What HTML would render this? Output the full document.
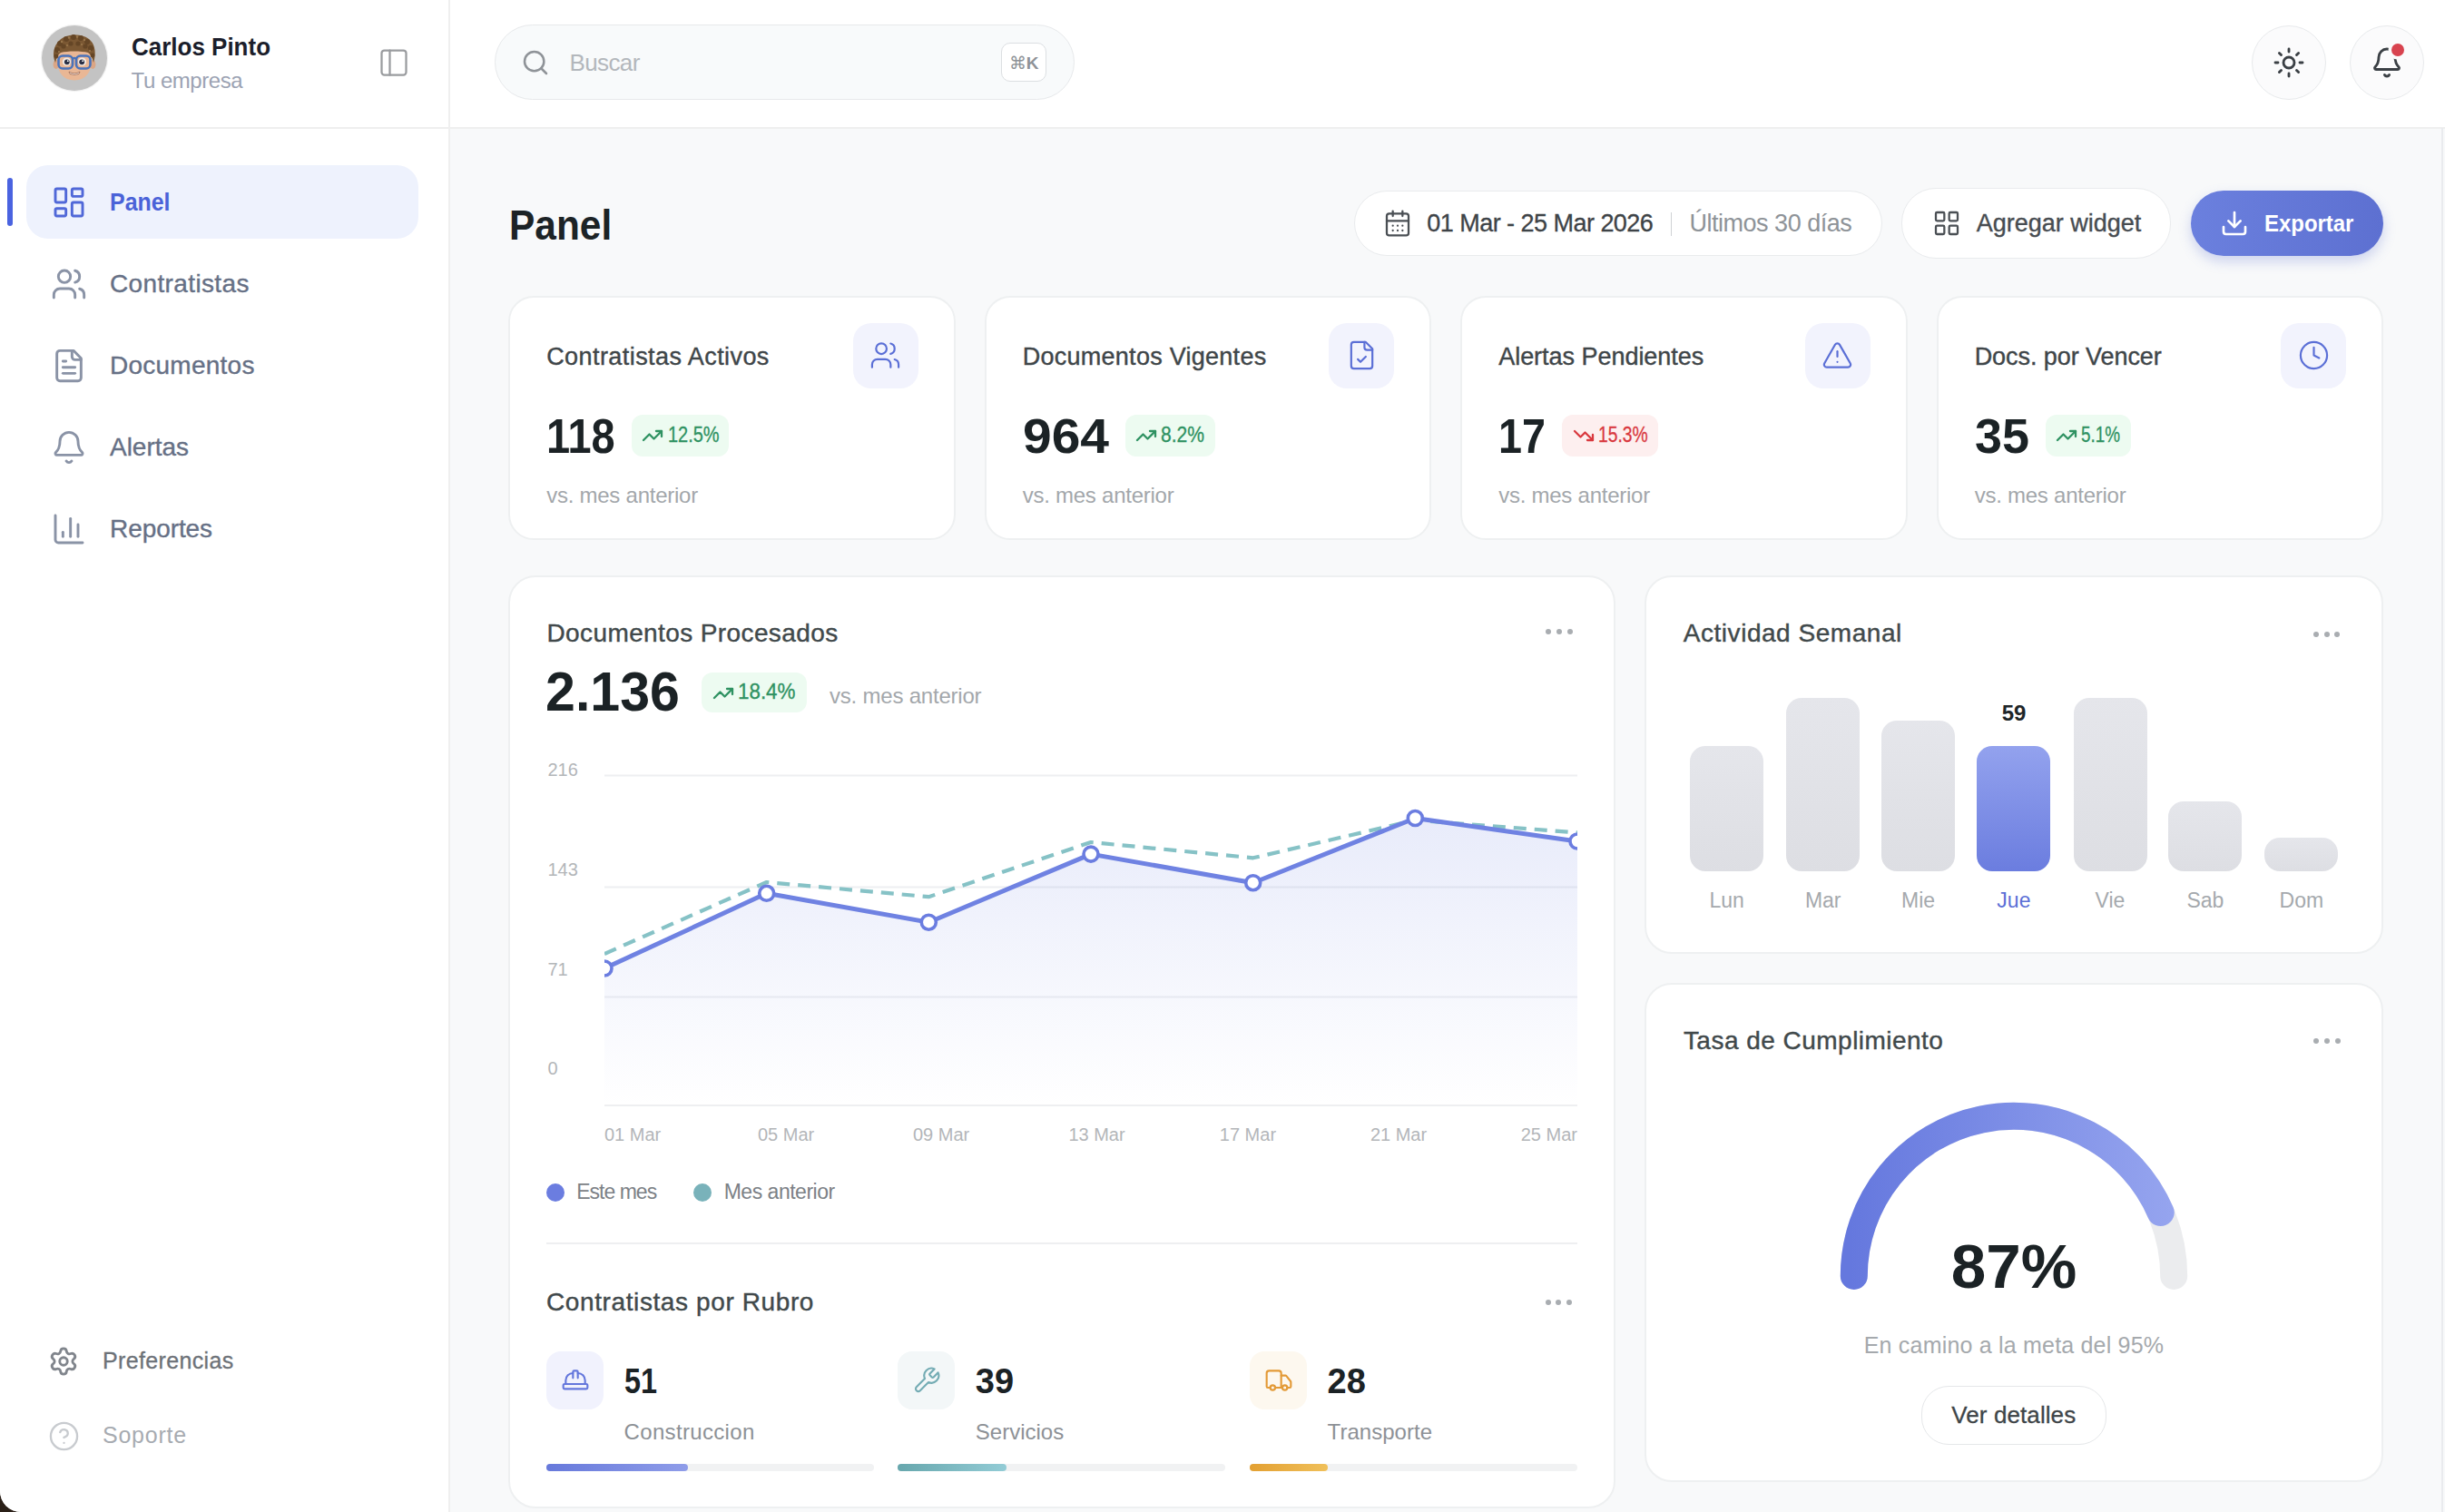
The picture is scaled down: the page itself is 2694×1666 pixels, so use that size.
<!DOCTYPE html>
<html><head><meta charset="utf-8"><style>
html,body{margin:0;padding:0;width:2694px;height:1666px;overflow:hidden;background:#2b2018;}
body{position:relative;font-family:"Liberation Sans",sans-serif;}
.t{position:absolute;white-space:nowrap;line-height:1;}
</style></head><body>
<div style="position:absolute;left:0;top:0;width:2694px;height:1666px;background:#f8f9fa;border-bottom-left-radius:23px;overflow:hidden"></div>
<div style="position:absolute;left:0.00px;top:0.00px;width:496.00px;height:1666.00px;background:#ffffff;border-bottom-left-radius:23px;border-right:2px solid #efefef;box-sizing:border-box"></div>
<div style="position:absolute;left:496.00px;top:0.00px;width:2198.00px;height:140.00px;background:#ffffff"></div>
<div style="position:absolute;left:0.00px;top:140.00px;width:2694.00px;height:2.00px;background:#efefef"></div>
<div style="position:absolute;left:2690.00px;top:141.00px;width:2.00px;height:1525.00px;background:#e9ebee"></div>
<svg style="position:absolute;left:44px;top:26px;width:76px;height:76px" viewBox="0 0 76 76">
<circle cx="38" cy="38" r="37.2" fill="#f2f2f2"/>
<circle cx="38" cy="38" r="36" fill="#c3c3c3"/>
<ellipse cx="17.8" cy="45" rx="3.2" ry="5" fill="#dba685"/>
<ellipse cx="58.2" cy="45" rx="3.2" ry="5" fill="#dba685"/>
<path d="M19 40 C19 30 27 27 38 27 C49 27 57 30 57 40 C57 54 50 62.5 38 62.5 C26 62.5 19 54 19 40Z" fill="#e9b795"/>
<path d="M17 43 C13 34 15 24 22 18 C28 13 34 12.5 38 12.5 C45 12.5 52 14 56 19 C61 24 62 34 59 43 C58 38 56 34 53 32 C46 30 30 30 23 32 C20 34 18 38 17 43Z" fill="#7b5833"/>
<g fill="#654626"><circle cx="22" cy="22" r="3"/><circle cx="29" cy="17" r="3"/><circle cx="37" cy="15" r="3"/><circle cx="45" cy="16" r="3"/><circle cx="52" cy="20" r="3"/><circle cx="56" cy="27" r="3"/><circle cx="19" cy="29" r="3"/><circle cx="26" cy="25" r="2.6"/><circle cx="34" cy="22" r="2.6"/><circle cx="42" cy="22" r="2.6"/><circle cx="50" cy="25" r="2.6"/><circle cx="18" cy="36" r="2.4"/><circle cx="58" cy="35" r="2.4"/></g>
<g fill="#9a774c"><circle cx="24" cy="20" r="1.2"/><circle cx="32" cy="15.5" r="1.2"/><circle cx="41" cy="14.5" r="1.2"/><circle cx="49" cy="18" r="1.2"/><circle cx="30" cy="24" r="1.1"/><circle cx="46" cy="23" r="1.1"/><circle cx="21" cy="31" r="1.1"/><circle cx="55" cy="30" r="1.1"/></g>
<circle cx="29.5" cy="42" r="4.6" fill="#f3ece8"/><circle cx="46.5" cy="42" r="4.6" fill="#f3ece8"/>
<circle cx="29.8" cy="42.3" r="2.9" fill="#2a3046"/><circle cx="46.2" cy="42.3" r="2.9" fill="#2a3046"/>
<circle cx="30.8" cy="41.2" r="0.9" fill="#ffffff"/><circle cx="47.2" cy="41.2" r="0.9" fill="#ffffff"/>
<rect x="20.5" y="35.5" width="15.5" height="14" rx="4.5" fill="none" stroke="#4a73ba" stroke-width="2.6"/>
<rect x="40" y="35.5" width="15.5" height="14" rx="4.5" fill="none" stroke="#4a73ba" stroke-width="2.6"/>
<path d="M36 38.5 Q38 37.5 40 38.5" stroke="#4a73ba" stroke-width="2.4" fill="none"/>
<path d="M32 53 Q38 56.5 44 53 L43 55.5 Q38 57.5 33 55.5Z" fill="#f1e6df" stroke="#a06a52" stroke-width="0.8"/>
</svg>
<div id="t_name" class="t" style="left:144.60px;top:38.30px;font-size:28px;color:#1b1e2b;font-weight:700;letter-spacing:0.000px;transform:scaleX(0.9278);transform-origin:0 0;">Carlos Pinto</div>
<div id="t_emp" class="t" style="left:144.60px;top:76.68px;font-size:24px;color:#9ca3b3;font-weight:400;letter-spacing:-0.470px;transform:scaleX(1.0000);transform-origin:0 0;">Tu empresa</div>
<svg style="position:absolute;left:416.00px;top:50.50px;width:36px;height:36px;" viewBox="0 0 24 24" fill="none" stroke="#9a9c9f" stroke-width="1.5" stroke-linecap="round" stroke-linejoin="round"><rect width="18" height="18" x="3" y="3" rx="2"/><path d="M9 3v18"/></svg>
<div style="position:absolute;left:28.60px;top:182.00px;width:432.90px;height:81.00px;background:#eef2fd;border-radius:24px"></div>
<div style="position:absolute;left:8.00px;top:196.00px;width:6.00px;height:53.00px;background:#4a63e0;border-radius:3px"></div>
<svg style="position:absolute;left:56.00px;top:202.75px;width:40px;height:40px;" viewBox="0 0 24 24" fill="none" stroke="#5068d8" stroke-width="1.75" stroke-linecap="round" stroke-linejoin="round"><rect width="7" height="9" x="3" y="3" rx="1"/><rect width="7" height="5" x="14" y="3" rx="1"/><rect width="7" height="9" x="14" y="12" rx="1"/><rect width="7" height="5" x="3" y="16" rx="1"/></svg>
<div id="t_nav0" class="t" style="left:121.00px;top:209.30px;font-size:28px;color:#4a62d8;font-weight:700;letter-spacing:0.000px;transform:scaleX(0.8902);transform-origin:0 0;">Panel</div>
<svg style="position:absolute;left:56.00px;top:292.75px;width:40px;height:40px;" viewBox="0 0 24 24" fill="none" stroke="#8a93a6" stroke-width="1.75" stroke-linecap="round" stroke-linejoin="round"><path d="M16 21v-2a4 4 0 0 0-4-4H6a4 4 0 0 0-4 4v2"/><path d="M16 3.128a4 4 0 0 1 0 7.744"/><path d="M22 21v-2a4 4 0 0 0-3-3.87"/><circle cx="9" cy="7" r="4"/></svg>
<div id="t_nav1" class="t" style="left:121.00px;top:299.30px;font-size:28px;color:#667085;font-weight:400;letter-spacing:0.367px;transform:scaleX(1.0000);transform-origin:0 0;-webkit-text-stroke:0.35px #667085;">Contratistas</div>
<svg style="position:absolute;left:56.00px;top:382.75px;width:40px;height:40px;" viewBox="0 0 24 24" fill="none" stroke="#8a93a6" stroke-width="1.75" stroke-linecap="round" stroke-linejoin="round"><path d="M15 2H6a2 2 0 0 0-2 2v16a2 2 0 0 0 2 2h12a2 2 0 0 0 2-2V7Z"/><path d="M14 2v4a2 2 0 0 0 2 2h4"/><path d="M10 9H8"/><path d="M16 13H8"/><path d="M16 17H8"/></svg>
<div id="t_nav2" class="t" style="left:121.00px;top:389.30px;font-size:28px;color:#667085;font-weight:400;letter-spacing:0.250px;transform:scaleX(1.0000);transform-origin:0 0;-webkit-text-stroke:0.35px #667085;">Documentos</div>
<svg style="position:absolute;left:56.00px;top:472.75px;width:40px;height:40px;" viewBox="0 0 24 24" fill="none" stroke="#8a93a6" stroke-width="1.75" stroke-linecap="round" stroke-linejoin="round"><path d="M10.268 21a2 2 0 0 0 3.464 0"/><path d="M3.262 15.326A1 1 0 0 0 4 17h16a1 1 0 0 0 .74-1.673C19.41 13.956 18 12.499 18 8A6 6 0 0 0 6 8c0 4.499-1.411 5.956-2.738 7.326"/></svg>
<div id="t_nav3" class="t" style="left:121.00px;top:479.30px;font-size:28px;color:#667085;font-weight:400;letter-spacing:-0.029px;transform:scaleX(1.0000);transform-origin:0 0;-webkit-text-stroke:0.35px #667085;">Alertas</div>
<svg style="position:absolute;left:56.00px;top:562.75px;width:40px;height:40px;" viewBox="0 0 24 24" fill="none" stroke="#8a93a6" stroke-width="1.75" stroke-linecap="round" stroke-linejoin="round"><path d="M3 3v16a2 2 0 0 0 2 2h16"/><path d="M18 17V9"/><path d="M13 17V5"/><path d="M8 17v-3"/></svg>
<div id="t_nav4" class="t" style="left:121.00px;top:569.30px;font-size:28px;color:#667085;font-weight:400;letter-spacing:-0.075px;transform:scaleX(1.0000);transform-origin:0 0;-webkit-text-stroke:0.35px #667085;">Reportes</div>
<svg style="position:absolute;left:53.00px;top:1483.00px;width:34px;height:34px;" viewBox="0 0 24 24" fill="none" stroke="#80858c" stroke-width="2.0" stroke-linecap="round" stroke-linejoin="round"><path d="M9.671 4.136a2.34 2.34 0 0 1 4.659 0 2.34 2.34 0 0 0 3.319 1.915 2.34 2.34 0 0 1 2.33 4.033 2.34 2.34 0 0 0 0 3.831 2.34 2.34 0 0 1-2.33 4.033 2.34 2.34 0 0 0-3.319 1.915 2.34 2.34 0 0 1-4.659 0 2.34 2.34 0 0 0-3.32-1.915 2.34 2.34 0 0 1-2.33-4.033 2.34 2.34 0 0 0 0-3.831A2.34 2.34 0 0 1 6.35 6.051a2.34 2.34 0 0 0 3.319-1.915"/><circle cx="12" cy="12" r="3"/></svg>
<div id="t_pref" class="t" style="left:113.00px;top:1486.54px;font-size:25px;color:#6d7278;font-weight:400;letter-spacing:0.358px;transform:scaleX(1.0000);transform-origin:0 0;-webkit-text-stroke:0.3px #6d7278;">Preferencias</div>
<svg style="position:absolute;left:52.50px;top:1565.10px;width:35px;height:35px;" viewBox="0 0 24 24" fill="none" stroke="#c8cbcf" stroke-width="1.6" stroke-linecap="round" stroke-linejoin="round"><circle cx="12" cy="12" r="10"/><path d="M9.09 9a3 3 0 0 1 5.83 1c0 2-3 3-3 3"/><path d="M12 17h.01"/></svg>
<div id="t_sop" class="t" style="left:113.00px;top:1569.44px;font-size:25px;color:#a7abb1;font-weight:400;letter-spacing:0.771px;transform:scaleX(1.0000);transform-origin:0 0;">Soporte</div>
<div style="position:absolute;left:545.00px;top:27.00px;width:639.00px;height:83.00px;background:#f8fafb;border:1.5px solid #e7e9eb;border-radius:42px;box-sizing:border-box"></div>
<svg style="position:absolute;left:573.50px;top:53.00px;width:32px;height:32px;" viewBox="0 0 24 24" fill="none" stroke="#8f9398" stroke-width="1.9" stroke-linecap="round" stroke-linejoin="round"><circle cx="11" cy="11" r="8"/><path d="m21 21-4.3-4.3"/></svg>
<div id="t_buscar" class="t" style="left:627.40px;top:55.99px;font-size:26px;color:#b3b7bc;font-weight:400;letter-spacing:-0.600px;transform:scaleX(1.0000);transform-origin:0 0;">Buscar</div>
<div style="position:absolute;left:1102.60px;top:47.20px;width:50.70px;height:43.00px;background:#ffffff;border:1.5px solid #dcdfe2;border-radius:10px;box-sizing:border-box"></div>
<div class="t" style="left:528.00px;width:1200px;text-align:center;top:59.92px;font-size:19px;color:#8e9297;font-weight:400;"><span id="t_kbd" style="display:inline-block;letter-spacing:0.000px;transform:scaleX(1.0000);transform-origin:50% 0">&#8984;<b>K</b></span></div>
<div style="position:absolute;left:2481.00px;top:28.00px;width:82.00px;height:82.00px;background:#fbfbfc;border:1.5px solid #e8eaec;border-radius:50%;box-sizing:border-box"></div>
<svg style="position:absolute;left:2504.00px;top:51.00px;width:36px;height:36px;" viewBox="0 0 24 24" fill="none" stroke="#3b4045" stroke-width="1.9" stroke-linecap="round" stroke-linejoin="round"><circle cx="12" cy="12" r="4"/><path d="M12 2v2"/><path d="M12 20v2"/><path d="m4.93 4.93 1.41 1.41"/><path d="m17.66 17.66 1.41 1.41"/><path d="M2 12h2"/><path d="M20 12h2"/><path d="m6.34 17.66-1.41 1.41"/><path d="m19.07 4.93-1.41 1.41"/></svg>
<div style="position:absolute;left:2589.00px;top:28.00px;width:82.00px;height:82.00px;background:#fbfbfc;border:1.5px solid #e8eaec;border-radius:50%;box-sizing:border-box"></div>
<svg style="position:absolute;left:2612.00px;top:51.00px;width:36px;height:36px;" viewBox="0 0 24 24" fill="none" stroke="#3b4045" stroke-width="1.9" stroke-linecap="round" stroke-linejoin="round"><path d="M10.268 21a2 2 0 0 0 3.464 0"/><path d="M3.262 15.326A1 1 0 0 0 4 17h16a1 1 0 0 0 .74-1.673C19.41 13.956 18 12.499 18 8A6 6 0 0 0 6 8c0 4.499-1.411 5.956-2.738 7.326"/></svg>
<div style="position:absolute;left:2635.00px;top:47.60px;width:14.00px;height:14.00px;background:#d8434f;border-radius:50%;box-shadow:0 0 0 3.5px #fbfbfc"></div>
<div id="t_title" class="t" style="left:560.60px;top:223.81px;font-size:47px;color:#1c2326;font-weight:700;letter-spacing:0.000px;transform:scaleX(0.9027);transform-origin:0 0;">Panel</div>
<div style="position:absolute;left:1491.50px;top:210.00px;width:582.50px;height:72.30px;background:#ffffff;border:1.5px solid #e9ebed;border-radius:37px;box-sizing:border-box"></div>
<svg style="position:absolute;left:1524.00px;top:229.50px;width:32px;height:32px;" viewBox="0 0 24 24" fill="none" stroke="#4a4f54" stroke-width="1.7" stroke-linecap="round" stroke-linejoin="round"><path d="M8 2v4"/><path d="M16 2v4"/><rect width="18" height="18" x="3" y="4" rx="2"/><path d="M3 10h18"/><path d="M8 14h.01"/><path d="M12 14h.01"/><path d="M16 14h.01"/><path d="M8 18h.01"/><path d="M12 18h.01"/><path d="M16 18h.01"/></svg>
<div id="t_date" class="t" style="left:1572.30px;top:233.14px;font-size:27px;color:#3e4347;font-weight:400;letter-spacing:-0.530px;transform:scaleX(1.0000);transform-origin:0 0;-webkit-text-stroke:0.3px #3e4347;">01 Mar - 25 Mar 2026</div>
<div style="position:absolute;left:1840.60px;top:234.00px;width:1.60px;height:26.00px;background:#cfd2d5"></div>
<div id="t_ult" class="t" style="left:1861.40px;top:233.14px;font-size:27px;color:#8e9398;font-weight:400;letter-spacing:-0.473px;transform:scaleX(1.0000);transform-origin:0 0;">&Uacute;ltimos 30 d&iacute;as</div>
<div style="position:absolute;left:2095.20px;top:207.00px;width:296.80px;height:77.50px;background:#ffffff;border:1.5px solid #e9ebed;border-radius:38px;box-sizing:border-box"></div>
<svg style="position:absolute;left:2129.00px;top:230.00px;width:32px;height:32px;" viewBox="0 0 24 24" fill="none" stroke="#4a4f54" stroke-width="1.7" stroke-linecap="round" stroke-linejoin="round"><rect width="7" height="7" x="3" y="3" rx="1"/><rect width="7" height="7" x="14" y="3" rx="1"/><rect width="7" height="7" x="14" y="14" rx="1"/><rect width="7" height="7" x="3" y="14" rx="1"/></svg>
<div id="t_agw" class="t" style="left:2177.80px;top:233.14px;font-size:27px;color:#474c51;font-weight:400;letter-spacing:-0.007px;transform:scaleX(1.0000);transform-origin:0 0;-webkit-text-stroke:0.35px #474c51;">Agregar widget</div>
<div style="position:absolute;left:2413.80px;top:210.00px;width:212.20px;height:71.70px;background:linear-gradient(90deg,#6b80de,#5d70d1);border-radius:36px;box-shadow:0 6px 14px rgba(91,111,209,0.28)"></div>
<svg style="position:absolute;left:2445.80px;top:229.50px;width:32px;height:32px;" viewBox="0 0 24 24" fill="none" stroke="#ffffff" stroke-width="2.0" stroke-linecap="round" stroke-linejoin="round"><path d="M12 15V3"/><path d="M21 15v4a2 2 0 0 1-2 2H5a2 2 0 0 1-2-2v-4"/><path d="m7 10 5 5 5-5"/></svg>
<div id="t_exp" class="t" style="left:2495.00px;top:232.99px;font-size:26px;color:#ffffff;font-weight:700;letter-spacing:0.000px;transform:scaleX(0.9205);transform-origin:0 0;">Exportar</div>
<div style="position:absolute;left:560.00px;top:326.00px;width:492.50px;height:268.50px;background:#ffffff;border:2px solid #eef0f1;border-radius:28px;box-sizing:border-box"></div>
<div id="t_ct0" class="t" style="left:602.20px;top:379.64px;font-size:27px;color:#3f4649;font-weight:400;letter-spacing:0.425px;transform:scaleX(1.0000);transform-origin:0 0;-webkit-text-stroke:0.4px #3f4649;">Contratistas Activos</div>
<div style="position:absolute;left:939.50px;top:355.80px;width:72.00px;height:72.20px;background:#f2f3fd;border-radius:20px"></div>
<svg style="position:absolute;left:958.00px;top:374.30px;width:35px;height:35px;" viewBox="0 0 24 24" fill="none" stroke="#5b6fd6" stroke-width="1.5" stroke-linecap="round" stroke-linejoin="round"><path d="M16 21v-2a4 4 0 0 0-4-4H6a4 4 0 0 0-4 4v2"/><path d="M16 3.128a4 4 0 0 1 0 7.744"/><path d="M22 21v-2a4 4 0 0 0-3-3.87"/><circle cx="9" cy="7" r="4"/></svg>
<div id="t_cv0" class="t" style="left:602.20px;top:453.19px;font-size:54px;color:#1b2225;font-weight:700;letter-spacing:0.000px;transform:scaleX(0.8691);transform-origin:0 0;">118</div>
<div style="position:absolute;left:695.90px;top:456.70px;width:107.60px;height:46.60px;background:#edfbf1;border-radius:12px"></div>
<svg style="position:absolute;left:707.40px;top:467.50px;width:24px;height:24px;" viewBox="0 0 24 24" fill="none" stroke="#2f9262" stroke-width="2.3" stroke-linecap="round" stroke-linejoin="round"><path d="M16 7h6v6"/><path d="m22 7-8.5 8.5-5-5L2 17"/></svg>
<div id="t_cp0" class="t" style="left:735.60px;top:468.33px;font-size:23px;color:#2f9262;font-weight:400;letter-spacing:0.000px;transform:scaleX(0.8681);transform-origin:0 0;-webkit-text-stroke:0.3px #2f9262;">12.5%</div>
<div id="t_cs0" class="t" style="left:602.20px;top:533.58px;font-size:24px;color:#a3a7ab;font-weight:400;letter-spacing:-0.250px;transform:scaleX(1.0000);transform-origin:0 0;">vs. mes anterior</div>
<div style="position:absolute;left:1084.50px;top:326.00px;width:492.50px;height:268.50px;background:#ffffff;border:2px solid #eef0f1;border-radius:28px;box-sizing:border-box"></div>
<div id="t_ct1" class="t" style="left:1126.70px;top:379.64px;font-size:27px;color:#3f4649;font-weight:400;letter-spacing:0.268px;transform:scaleX(1.0000);transform-origin:0 0;-webkit-text-stroke:0.4px #3f4649;">Documentos Vigentes</div>
<div style="position:absolute;left:1464.00px;top:355.80px;width:72.00px;height:72.20px;background:#f2f3fd;border-radius:20px"></div>
<svg style="position:absolute;left:1482.50px;top:374.30px;width:35px;height:35px;" viewBox="0 0 24 24" fill="none" stroke="#5b6fd6" stroke-width="1.5" stroke-linecap="round" stroke-linejoin="round"><path d="M15 2H6a2 2 0 0 0-2 2v16a2 2 0 0 0 2 2h12a2 2 0 0 0 2-2V7Z"/><path d="M14 2v4a2 2 0 0 0 2 2h4"/><path d="m9 15 2 2 4-4"/></svg>
<div id="t_cv1" class="t" style="left:1126.70px;top:453.19px;font-size:54px;color:#1b2225;font-weight:700;letter-spacing:0.000px;transform:scaleX(1.0544);transform-origin:0 0;">964</div>
<div style="position:absolute;left:1239.70px;top:456.70px;width:99.00px;height:46.60px;background:#edfbf1;border-radius:12px"></div>
<svg style="position:absolute;left:1251.20px;top:467.50px;width:24px;height:24px;" viewBox="0 0 24 24" fill="none" stroke="#2f9262" stroke-width="2.3" stroke-linecap="round" stroke-linejoin="round"><path d="M16 7h6v6"/><path d="m22 7-8.5 8.5-5-5L2 17"/></svg>
<div id="t_cp1" class="t" style="left:1279.40px;top:468.33px;font-size:23px;color:#2f9262;font-weight:400;letter-spacing:0.000px;transform:scaleX(0.9160);transform-origin:0 0;-webkit-text-stroke:0.3px #2f9262;">8.2%</div>
<div id="t_cs1" class="t" style="left:1126.70px;top:533.58px;font-size:24px;color:#a3a7ab;font-weight:400;letter-spacing:-0.250px;transform:scaleX(1.0000);transform-origin:0 0;">vs. mes anterior</div>
<div style="position:absolute;left:1609.00px;top:326.00px;width:492.50px;height:268.50px;background:#ffffff;border:2px solid #eef0f1;border-radius:28px;box-sizing:border-box"></div>
<div id="t_ct2" class="t" style="left:1651.20px;top:379.64px;font-size:27px;color:#3f4649;font-weight:400;letter-spacing:-0.033px;transform:scaleX(1.0000);transform-origin:0 0;-webkit-text-stroke:0.4px #3f4649;">Alertas Pendientes</div>
<div style="position:absolute;left:1988.50px;top:355.80px;width:72.00px;height:72.20px;background:#f2f3fd;border-radius:20px"></div>
<svg style="position:absolute;left:2007.00px;top:374.30px;width:35px;height:35px;" viewBox="0 0 24 24" fill="none" stroke="#5b6fd6" stroke-width="1.5" stroke-linecap="round" stroke-linejoin="round"><path d="m21.73 18-8-14a2 2 0 0 0-3.48 0l-8 14A2 2 0 0 0 4 21h16a2 2 0 0 0 1.73-3"/><path d="M12 9v4"/><path d="M12 17h.01"/></svg>
<div id="t_cv2" class="t" style="left:1651.20px;top:453.19px;font-size:54px;color:#1b2225;font-weight:700;letter-spacing:0.000px;transform:scaleX(0.8652);transform-origin:0 0;">17</div>
<div style="position:absolute;left:1721.20px;top:456.70px;width:105.70px;height:46.60px;background:#fdefef;border-radius:12px"></div>
<svg style="position:absolute;left:1733.20px;top:467.50px;width:24px;height:24px;" viewBox="0 0 24 24" fill="none" stroke="#d9393f" stroke-width="2.3" stroke-linecap="round" stroke-linejoin="round"><path d="M16 17h6v-6"/><path d="m22 17-8.5-8.5-5 5L2 7"/></svg>
<div id="t_cp2" class="t" style="left:1761.40px;top:468.33px;font-size:23px;color:#d9393f;font-weight:400;letter-spacing:0.000px;transform:scaleX(0.8390);transform-origin:0 0;-webkit-text-stroke:0.3px #d9393f;">15.3%</div>
<div id="t_cs2" class="t" style="left:1651.20px;top:533.58px;font-size:24px;color:#a3a7ab;font-weight:400;letter-spacing:-0.250px;transform:scaleX(1.0000);transform-origin:0 0;">vs. mes anterior</div>
<div style="position:absolute;left:2133.50px;top:326.00px;width:492.50px;height:268.50px;background:#ffffff;border:2px solid #eef0f1;border-radius:28px;box-sizing:border-box"></div>
<div id="t_ct3" class="t" style="left:2175.70px;top:379.64px;font-size:27px;color:#3f4649;font-weight:400;letter-spacing:-0.069px;transform:scaleX(1.0000);transform-origin:0 0;-webkit-text-stroke:0.4px #3f4649;">Docs. por Vencer</div>
<div style="position:absolute;left:2513.00px;top:355.80px;width:72.00px;height:72.20px;background:#f2f3fd;border-radius:20px"></div>
<svg style="position:absolute;left:2531.50px;top:374.30px;width:35px;height:35px;" viewBox="0 0 24 24" fill="none" stroke="#5b6fd6" stroke-width="1.5" stroke-linecap="round" stroke-linejoin="round"><circle cx="12" cy="12" r="10"/><path d="M12 6v6l4 2"/></svg>
<div id="t_cv3" class="t" style="left:2175.70px;top:453.19px;font-size:54px;color:#1b2225;font-weight:700;letter-spacing:0.000px;transform:scaleX(0.9983);transform-origin:0 0;">35</div>
<div style="position:absolute;left:2253.70px;top:456.70px;width:94.00px;height:46.60px;background:#edfbf1;border-radius:12px"></div>
<svg style="position:absolute;left:2265.20px;top:467.50px;width:24px;height:24px;" viewBox="0 0 24 24" fill="none" stroke="#2f9262" stroke-width="2.3" stroke-linecap="round" stroke-linejoin="round"><path d="M16 7h6v6"/><path d="m22 7-8.5 8.5-5-5L2 17"/></svg>
<div id="t_cp3" class="t" style="left:2293.40px;top:468.33px;font-size:23px;color:#2f9262;font-weight:400;letter-spacing:0.000px;transform:scaleX(0.8206);transform-origin:0 0;-webkit-text-stroke:0.3px #2f9262;">5.1%</div>
<div id="t_cs3" class="t" style="left:2175.70px;top:533.58px;font-size:24px;color:#a3a7ab;font-weight:400;letter-spacing:-0.250px;transform:scaleX(1.0000);transform-origin:0 0;">vs. mes anterior</div>
<div style="position:absolute;left:560.00px;top:634.00px;width:1220.00px;height:1027.60px;background:#ffffff;border:2px solid #eef0f1;border-radius:30px;box-sizing:border-box"></div>
<div id="t_dp" class="t" style="left:602.50px;top:683.90px;font-size:28px;color:#41494b;font-weight:400;letter-spacing:0.390px;transform:scaleX(1.0000);transform-origin:0 0;-webkit-text-stroke:0.4px #41494b;">Documentos Procesados</div>
<div style="position:absolute;left:1703.30px;top:692.80px;width:6.00px;height:6.00px;background:#a9adb1;border-radius:50%"></div>
<div style="position:absolute;left:1714.95px;top:692.80px;width:6.00px;height:6.00px;background:#a9adb1;border-radius:50%"></div>
<div style="position:absolute;left:1726.60px;top:692.80px;width:6.00px;height:6.00px;background:#a9adb1;border-radius:50%"></div>
<div id="t_dpv" class="t" style="left:601.00px;top:730.72px;font-size:62px;color:#1b2225;font-weight:700;letter-spacing:0.000px;transform:scaleX(0.9536);transform-origin:0 0;">2.136</div>
<div style="position:absolute;left:772.80px;top:741.00px;width:116.60px;height:44.00px;background:#edfbf1;border-radius:12px"></div>
<svg style="position:absolute;left:784.50px;top:751.50px;width:24px;height:24px;" viewBox="0 0 24 24" fill="none" stroke="#2f9262" stroke-width="2.3" stroke-linecap="round" stroke-linejoin="round"><path d="M16 7h6v6"/><path d="m22 7-8.5 8.5-5-5L2 17"/></svg>
<div id="t_dpp" class="t" style="left:813.00px;top:750.73px;font-size:23px;color:#2f9262;font-weight:400;letter-spacing:0.000px;transform:scaleX(0.9724);transform-origin:0 0;-webkit-text-stroke:0.3px #2f9262;">18.4%</div>
<div id="t_dps" class="t" style="left:914.00px;top:754.68px;font-size:24px;color:#a3a7ab;font-weight:400;letter-spacing:-0.212px;transform:scaleX(1.0000);transform-origin:0 0;">vs. mes anterior</div>
<div id="t_y216" class="t" style="left:603.50px;top:838.07px;font-size:20px;color:#b3b6b9;font-weight:400;letter-spacing:0.000px;transform:scaleX(1.0000);transform-origin:0 0;">216</div>
<div id="t_y143" class="t" style="left:603.50px;top:948.47px;font-size:20px;color:#b3b6b9;font-weight:400;letter-spacing:0.000px;transform:scaleX(1.0000);transform-origin:0 0;">143</div>
<div id="t_y71" class="t" style="left:603.50px;top:1058.07px;font-size:20px;color:#b3b6b9;font-weight:400;letter-spacing:0.000px;transform:scaleX(1.0000);transform-origin:0 0;">71</div>
<div id="t_y0" class="t" style="left:603.50px;top:1166.57px;font-size:20px;color:#b3b6b9;font-weight:400;letter-spacing:0.000px;transform:scaleX(1.0000);transform-origin:0 0;">0</div>
<svg style="position:absolute;left:666px;top:820px;width:1072px;height:420px;overflow:hidden" viewBox="0 0 1072 420">
<defs><linearGradient id="ag" x1="0" y1="0" x2="0" y2="1"><stop offset="0" stop-color="#7185e2" stop-opacity="0.16"/><stop offset="1" stop-color="#7185e2" stop-opacity="0.0"/></linearGradient></defs>
<line x1="0" x2="1072" y1="34.4" y2="34.4" stroke="#eeeff1" stroke-width="2"/><line x1="0" x2="1072" y1="157.6" y2="157.6" stroke="#eeeff1" stroke-width="2"/><line x1="0" x2="1072" y1="278.4" y2="278.4" stroke="#eeeff1" stroke-width="2"/><line x1="0" x2="1072" y1="398.0" y2="398.0" stroke="#eeeff1" stroke-width="2"/>
<path d="M0,247.0 L0.0,247.0 L178.7,164.3 L357.3,196.2 L536.0,121.1 L714.7,152.7 L893.3,81.5 L1072.0,107.0 L1072,398 L0,398 Z" fill="url(#ag)"/>
<polyline points="0.0,231.0 178.7,152.0 357.3,168.2 536.0,108.0 714.7,125.3 893.3,83.7 1072.0,97.4" fill="none" stroke="#86c2c6" stroke-width="4.2" stroke-dasharray="14 9" stroke-linejoin="round"/>
<polyline points="0.0,247.0 178.7,164.3 357.3,196.2 536.0,121.1 714.7,152.7 893.3,81.5 1072.0,107.0" fill="none" stroke="#6f82e2" stroke-width="5" stroke-linejoin="round" stroke-linecap="round"/>
<circle cx="0.0" cy="247.0" r="8" fill="#ffffff" stroke="#6b7de0" stroke-width="3.6"/><circle cx="178.7" cy="164.3" r="8" fill="#ffffff" stroke="#6b7de0" stroke-width="3.6"/><circle cx="357.3" cy="196.2" r="8" fill="#ffffff" stroke="#6b7de0" stroke-width="3.6"/><circle cx="536.0" cy="121.1" r="8" fill="#ffffff" stroke="#6b7de0" stroke-width="3.6"/><circle cx="714.7" cy="152.7" r="8" fill="#ffffff" stroke="#6b7de0" stroke-width="3.6"/><circle cx="893.3" cy="81.5" r="8" fill="#ffffff" stroke="#6b7de0" stroke-width="3.6"/><circle cx="1072.0" cy="107.0" r="8" fill="#ffffff" stroke="#6b7de0" stroke-width="3.6"/>
</svg>
<div id="t_xl0" class="t" style="left:666.00px;top:1239.67px;font-size:20px;color:#b3b6b9;font-weight:400;letter-spacing:0.000px;transform:scaleX(1.0000);transform-origin:0 0;">01 Mar</div>
<div id="t_xl1" class="t" style="left:835.00px;top:1239.67px;font-size:20px;color:#b3b6b9;font-weight:400;letter-spacing:0.000px;transform:scaleX(1.0000);transform-origin:0 0;">05 Mar</div>
<div id="t_xl2" class="t" style="left:1006.00px;top:1239.67px;font-size:20px;color:#b3b6b9;font-weight:400;letter-spacing:0.000px;transform:scaleX(1.0000);transform-origin:0 0;">09 Mar</div>
<div id="t_xl3" class="t" style="left:1177.40px;top:1239.67px;font-size:20px;color:#b3b6b9;font-weight:400;letter-spacing:0.000px;transform:scaleX(1.0000);transform-origin:0 0;">13 Mar</div>
<div id="t_xl4" class="t" style="left:1343.80px;top:1239.67px;font-size:20px;color:#b3b6b9;font-weight:400;letter-spacing:0.000px;transform:scaleX(1.0000);transform-origin:0 0;">17 Mar</div>
<div id="t_xl5" class="t" style="left:1509.90px;top:1239.67px;font-size:20px;color:#b3b6b9;font-weight:400;letter-spacing:0.000px;transform:scaleX(1.0000);transform-origin:0 0;">21 Mar</div>
<div class="t" style="left:1538px;width:200px;text-align:right;top:1239.67px;font-size:20px;color:#b3b6b9">25 Mar</div>
<div style="position:absolute;left:602.00px;top:1304.00px;width:20.00px;height:20.00px;background:#6b7de0;border-radius:50%"></div>
<div id="t_lg1" class="t" style="left:635.20px;top:1301.73px;font-size:23px;color:#7c8186;font-weight:400;letter-spacing:-0.988px;transform:scaleX(1.0000);transform-origin:0 0;">Este mes</div>
<div style="position:absolute;left:764.00px;top:1304.00px;width:20.00px;height:20.00px;background:#79b2ba;border-radius:50%"></div>
<div id="t_lg2" class="t" style="left:797.70px;top:1301.73px;font-size:23px;color:#7c8186;font-weight:400;letter-spacing:-0.483px;transform:scaleX(1.0000);transform-origin:0 0;">Mes anterior</div>
<div style="position:absolute;left:602.00px;top:1369.00px;width:1135.50px;height:2.00px;background:#eeeff1"></div>
<div id="t_rub" class="t" style="left:602.00px;top:1421.10px;font-size:28px;color:#41494b;font-weight:400;letter-spacing:0.605px;transform:scaleX(1.0000);transform-origin:0 0;-webkit-text-stroke:0.4px #41494b;">Contratistas por Rubro</div>
<div style="position:absolute;left:1702.60px;top:1432.00px;width:6.00px;height:6.00px;background:#a9adb1;border-radius:50%"></div>
<div style="position:absolute;left:1714.25px;top:1432.00px;width:6.00px;height:6.00px;background:#a9adb1;border-radius:50%"></div>
<div style="position:absolute;left:1725.90px;top:1432.00px;width:6.00px;height:6.00px;background:#a9adb1;border-radius:50%"></div>
<div style="position:absolute;left:602.00px;top:1488.80px;width:63.00px;height:64.00px;background:#f1f2fd;border-radius:16px"></div>
<svg style="position:absolute;left:617.50px;top:1504.80px;width:32px;height:32px;" viewBox="0 0 24 24" fill="none" stroke="#6477dc" stroke-width="1.6" stroke-linecap="round" stroke-linejoin="round"><path d="M10 10V5a1 1 0 0 1 1-1h2a1 1 0 0 1 1 1v5"/><path d="M14 6a6 6 0 0 1 6 6v3"/><path d="M4 15v-3a6 6 0 0 1 6-6"/><rect x="2" y="15" width="20" height="4" rx="1"/></svg>
<div id="t_rv0" class="t" style="left:687.60px;top:1503.13px;font-size:38px;color:#1b2225;font-weight:700;letter-spacing:0.000px;transform:scaleX(0.8511);transform-origin:0 0;">51</div>
<div id="t_rl0" class="t" style="left:687.60px;top:1565.98px;font-size:24px;color:#8d9196;font-weight:400;letter-spacing:0.325px;transform:scaleX(1.0000);transform-origin:0 0;">Construccion</div>
<div style="position:absolute;left:602.00px;top:1613.20px;width:361.00px;height:8.10px;background:#f1f2f3;border-radius:4px"></div>
<div style="position:absolute;left:602.00px;top:1613.20px;width:156.00px;height:8.10px;background:linear-gradient(90deg,#6779db,#8f9de9);border-radius:4px"></div>
<div style="position:absolute;left:989.20px;top:1488.80px;width:63.00px;height:64.00px;background:#f3f7f8;border-radius:16px"></div>
<svg style="position:absolute;left:1004.70px;top:1504.80px;width:32px;height:32px;" viewBox="0 0 24 24" fill="none" stroke="#74acb4" stroke-width="1.6" stroke-linecap="round" stroke-linejoin="round"><path d="M14.7 6.3a1 1 0 0 0 0 1.4l1.6 1.6a1 1 0 0 0 1.4 0l3.77-3.77a6 6 0 0 1-7.94 7.94l-6.91 6.91a2.12 2.12 0 0 1-3-3l6.91-6.91a6 6 0 0 1 7.94-7.94l-3.76 3.76z"/></svg>
<div id="t_rv1" class="t" style="left:1074.80px;top:1503.13px;font-size:38px;color:#1b2225;font-weight:700;letter-spacing:0.000px;transform:scaleX(1.0000);transform-origin:0 0;">39</div>
<div id="t_rl1" class="t" style="left:1074.80px;top:1565.98px;font-size:24px;color:#8d9196;font-weight:400;letter-spacing:0.000px;transform:scaleX(1.0000);transform-origin:0 0;">Servicios</div>
<div style="position:absolute;left:989.20px;top:1613.20px;width:361.00px;height:8.10px;background:#f1f2f3;border-radius:4px"></div>
<div style="position:absolute;left:989.20px;top:1613.20px;width:119.50px;height:8.10px;background:linear-gradient(90deg,#67a7ad,#93ccd6);border-radius:4px"></div>
<div style="position:absolute;left:1377.00px;top:1488.80px;width:63.00px;height:64.00px;background:#fdf8ef;border-radius:16px"></div>
<svg style="position:absolute;left:1392.50px;top:1504.80px;width:32px;height:32px;" viewBox="0 0 24 24" fill="none" stroke="#e39a37" stroke-width="1.6" stroke-linecap="round" stroke-linejoin="round"><path d="M14 18V6a2 2 0 0 0-2-2H4a2 2 0 0 0-2 2v11a1 1 0 0 0 1 1h2"/><path d="M15 18H9"/><path d="M19 18h2a1 1 0 0 0 1-1v-3.65a1 1 0 0 0-.22-.624l-3.48-4.35A1 1 0 0 0 17.52 8H14"/><circle cx="17" cy="18" r="2"/><circle cx="7" cy="18" r="2"/></svg>
<div id="t_rv2" class="t" style="left:1462.60px;top:1503.13px;font-size:38px;color:#1b2225;font-weight:700;letter-spacing:0.000px;transform:scaleX(1.0000);transform-origin:0 0;">28</div>
<div id="t_rl2" class="t" style="left:1462.60px;top:1565.98px;font-size:24px;color:#8d9196;font-weight:400;letter-spacing:0.030px;transform:scaleX(1.0000);transform-origin:0 0;">Transporte</div>
<div style="position:absolute;left:1377.00px;top:1613.20px;width:361.00px;height:8.10px;background:#f1f2f3;border-radius:4px"></div>
<div style="position:absolute;left:1377.00px;top:1613.20px;width:85.70px;height:8.10px;background:linear-gradient(90deg,#e3a032,#f0c05a);border-radius:4px"></div>
<div style="position:absolute;left:1812.40px;top:634.00px;width:813.60px;height:417.00px;background:#ffffff;border:2px solid #eef0f1;border-radius:30px;box-sizing:border-box"></div>
<div id="t_act" class="t" style="left:1854.80px;top:684.10px;font-size:28px;color:#41494b;font-weight:400;letter-spacing:0.535px;transform:scaleX(1.0000);transform-origin:0 0;-webkit-text-stroke:0.4px #41494b;">Actividad Semanal</div>
<div style="position:absolute;left:2549.00px;top:695.60px;width:6.00px;height:6.00px;background:#a9adb1;border-radius:50%"></div>
<div style="position:absolute;left:2560.65px;top:695.60px;width:6.00px;height:6.00px;background:#a9adb1;border-radius:50%"></div>
<div style="position:absolute;left:2572.30px;top:695.60px;width:6.00px;height:6.00px;background:#a9adb1;border-radius:50%"></div>
<div style="position:absolute;left:1862.20px;top:822.30px;width:81.00px;height:137.70px;background:linear-gradient(180deg,#e5e6eb,#dddee3);border-radius:17px"></div>
<div class="t" style="left:1302.70px;width:1200px;text-align:center;top:980.83px;font-size:23px;color:#a5a9ad;font-weight:400;"><span id="t_d0" style="display:inline-block;letter-spacing:0.000px;transform:scaleX(1.0000);transform-origin:50% 0">Lun</span></div>
<div style="position:absolute;left:1968.20px;top:769.30px;width:81.00px;height:190.70px;background:linear-gradient(180deg,#e5e6eb,#dddee3);border-radius:17px"></div>
<div class="t" style="left:1408.70px;width:1200px;text-align:center;top:980.83px;font-size:23px;color:#a5a9ad;font-weight:400;"><span id="t_d1" style="display:inline-block;letter-spacing:0.000px;transform:scaleX(1.0000);transform-origin:50% 0">Mar</span></div>
<div style="position:absolute;left:2073.10px;top:793.50px;width:81.00px;height:166.50px;background:linear-gradient(180deg,#e5e6eb,#dddee3);border-radius:17px"></div>
<div class="t" style="left:1513.60px;width:1200px;text-align:center;top:980.83px;font-size:23px;color:#a5a9ad;font-weight:400;"><span id="t_d2" style="display:inline-block;letter-spacing:0.000px;transform:scaleX(1.0000);transform-origin:50% 0">Mie</span></div>
<div style="position:absolute;left:2178.40px;top:821.60px;width:81.00px;height:138.40px;background:linear-gradient(180deg,#93a2ee,#6b7ddf);border-radius:17px"></div>
<div class="t" style="left:1618.90px;width:1200px;text-align:center;top:980.83px;font-size:23px;color:#5b6fd6;font-weight:400;"><span id="t_d3" style="display:inline-block;letter-spacing:0.000px;transform:scaleX(1.0000);transform-origin:50% 0">Jue</span></div>
<div style="position:absolute;left:2284.50px;top:769.30px;width:81.00px;height:190.70px;background:linear-gradient(180deg,#e5e6eb,#dddee3);border-radius:17px"></div>
<div class="t" style="left:1725.00px;width:1200px;text-align:center;top:980.83px;font-size:23px;color:#a5a9ad;font-weight:400;"><span id="t_d4" style="display:inline-block;letter-spacing:0.000px;transform:scaleX(1.0000);transform-origin:50% 0">Vie</span></div>
<div style="position:absolute;left:2389.40px;top:883.00px;width:81.00px;height:77.00px;background:linear-gradient(180deg,#e5e6eb,#dddee3);border-radius:17px"></div>
<div class="t" style="left:1829.90px;width:1200px;text-align:center;top:980.83px;font-size:23px;color:#a5a9ad;font-weight:400;"><span id="t_d5" style="display:inline-block;letter-spacing:0.000px;transform:scaleX(1.0000);transform-origin:50% 0">Sab</span></div>
<div style="position:absolute;left:2495.40px;top:923.20px;width:81.00px;height:36.80px;background:linear-gradient(180deg,#e5e6eb,#dddee3);border-radius:17px"></div>
<div class="t" style="left:1935.90px;width:1200px;text-align:center;top:980.83px;font-size:23px;color:#a5a9ad;font-weight:400;"><span id="t_d6" style="display:inline-block;letter-spacing:0.000px;transform:scaleX(1.0000);transform-origin:50% 0">Dom</span></div>
<div class="t" style="left:1619.00px;width:1200px;text-align:center;top:774.48px;font-size:24px;color:#1e2528;font-weight:700;"><span id="t_v59" style="display:inline-block;letter-spacing:0.000px;transform:scaleX(1.0000);transform-origin:50% 0">59</span></div>
<div style="position:absolute;left:1812.40px;top:1083.00px;width:813.60px;height:550.00px;background:#ffffff;border:2px solid #eef0f1;border-radius:30px;box-sizing:border-box"></div>
<div id="t_tasa" class="t" style="left:1854.90px;top:1133.30px;font-size:28px;color:#41494b;font-weight:400;letter-spacing:0.475px;transform:scaleX(1.0000);transform-origin:0 0;-webkit-text-stroke:0.4px #41494b;">Tasa de Cumplimiento</div>
<div style="position:absolute;left:2549.30px;top:1144.40px;width:6.00px;height:6.00px;background:#a9adb1;border-radius:50%"></div>
<div style="position:absolute;left:2560.95px;top:1144.40px;width:6.00px;height:6.00px;background:#a9adb1;border-radius:50%"></div>
<div style="position:absolute;left:2572.60px;top:1144.40px;width:6.00px;height:6.00px;background:#a9adb1;border-radius:50%"></div>
<svg style="position:absolute;left:1998.8px;top:1186.0px;width:440px;height:260px" viewBox="-220 -220 440 260">
<defs><linearGradient id="gg" x1="-180" y1="0" x2="180" y2="0" gradientUnits="userSpaceOnUse"><stop offset="0" stop-color="#6578de"/><stop offset="1" stop-color="#96a5ef"/></linearGradient></defs>
<path d="M-176.2,0 A176.2,176.2 0 0 1 176.2,0" fill="none" stroke="#ebecee" stroke-width="30" stroke-linecap="round"/>
<path d="M-176.2,0 A176.2,176.2 0 0 1 161.71,-69.98" fill="none" stroke="url(#gg)" stroke-width="30" stroke-linecap="round"/>
</svg>
<div class="t" style="left:1619.00px;width:1200px;text-align:center;top:1360.99px;font-size:69px;color:#1b2225;font-weight:700;"><span id="t_g87" style="display:inline-block;letter-spacing:0.000px;transform:scaleX(1.0029);transform-origin:50% 0">87%</span></div>
<div class="t" style="left:1619.00px;width:1200px;text-align:center;top:1469.64px;font-size:25px;color:#a5a9ad;font-weight:400;"><span id="t_meta" style="display:inline-block;letter-spacing:0.196px;transform:scaleX(1.0000);transform-origin:50% 0">En camino a la meta del 95%</span></div>
<div style="position:absolute;left:2116.60px;top:1526.80px;width:204.40px;height:65.40px;background:#ffffff;border:1.5px solid #e5e7e9;border-radius:30px;box-sizing:border-box"></div>
<div class="t" style="left:1618.80px;width:1200px;text-align:center;top:1545.99px;font-size:26px;color:#3e4548;font-weight:400;-webkit-text-stroke:0.3px #3e4548;"><span id="t_ver" style="display:inline-block;letter-spacing:0.092px;transform:scaleX(1.0000);transform-origin:50% 0">Ver detalles</span></div>
</body></html>
